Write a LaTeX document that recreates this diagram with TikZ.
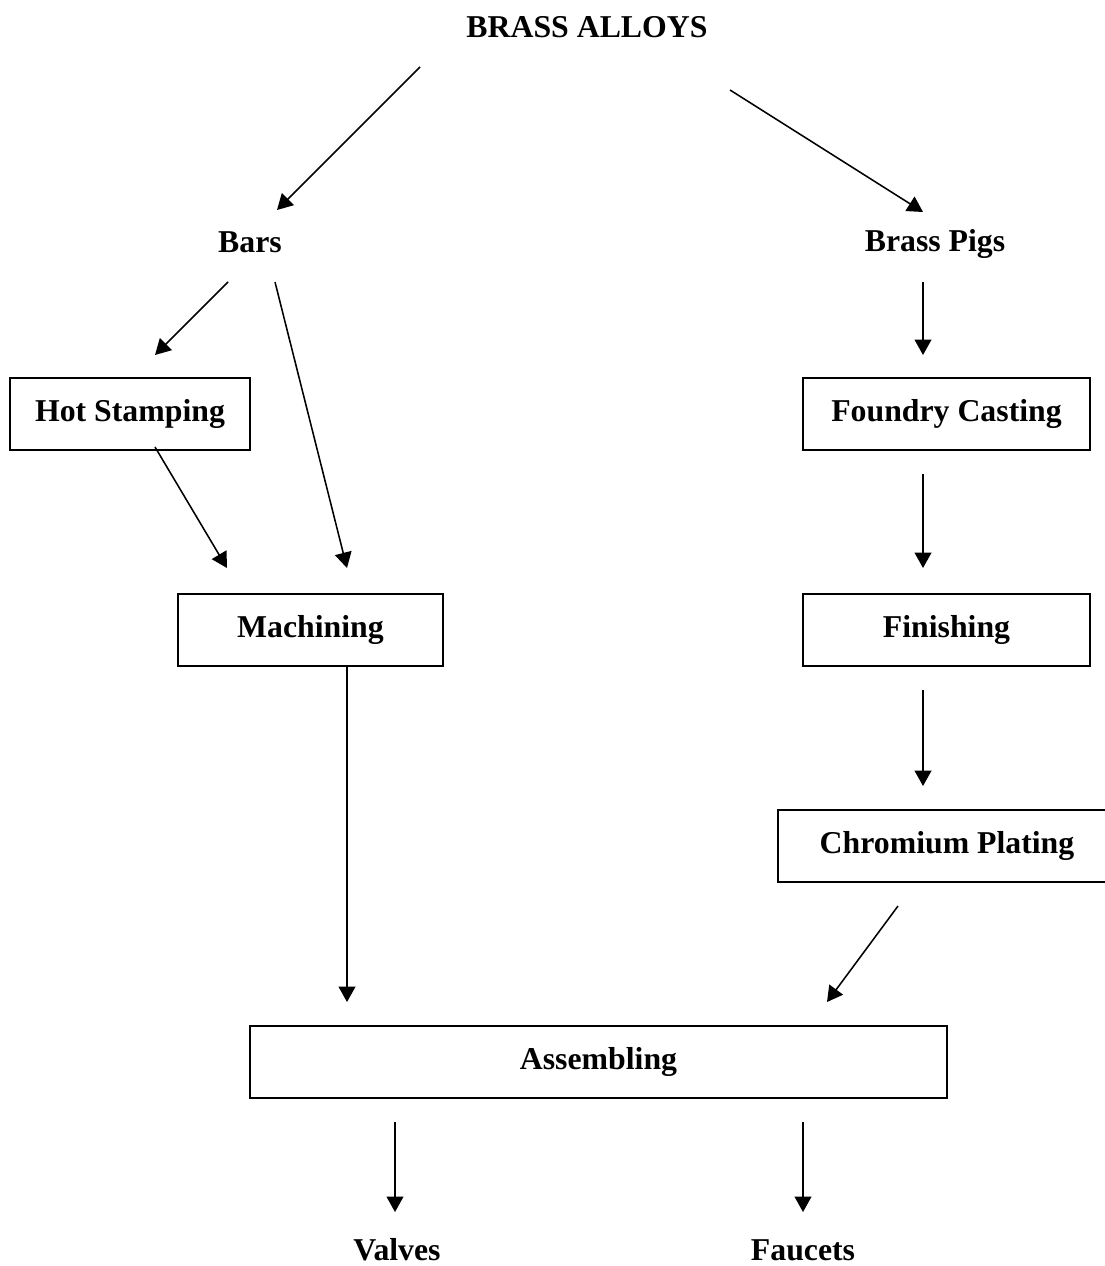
\documentclass[tikz,border=0pt]{standalone}
\usepackage{fontspec}
\setmainfont{Liberation Serif}
\usetikzlibrary{arrows.meta,calc}
\tikzset{
  stage/.style={draw, line width=1.6pt, minimum height=72*0.025cm, inner sep=0pt},
  label/.style={inner sep=0pt},
  flow/.style={line width=1.1pt, -{Triangle[length=11pt, width=12pt]}},
}

\begin{document}
\begin{tikzpicture}[x=0.025cm, y=-0.025cm, font=\fontsize{22.6}{27}\selectfont\bfseries]
\useasboundingbox (0,0) rectangle (1104,1266);

% plain labels
\node[label] (alloys) at (587,27) {BRASS ALLOYS};
\node[label] (bars) at (250,242) {Bars};
\node[label] (pigs) at (935,244) {Brass Pigs};
\node[label] (valves) at (397,1250) {Valves};
\node[label] (faucets) at (803,1250) {Faucets};

% boxed stages
\node[stage, minimum width=240*0.025cm] (hot) at (130,414) {Hot Stamping};
\node[stage, minimum width=287*0.025cm] (foundry) at (946.5,414) {Foundry Casting};
\node[stage, minimum width=265*0.025cm] (mach) at (310.5,630) {Machining};
\node[stage, minimum width=287*0.025cm] (finish) at (946.5,630) {Finishing};
\node[stage, minimum width=338*0.025cm] (chrom) at (947,846) {Chromium Plating};
\node[stage, minimum width=697*0.025cm] (assem) at (598.5,1062) {Assembling};

% left branch
\draw[flow] ($(alloys)+(-167,40)$) -- ($(bars)+(27,-32)$);
\draw[flow] ($(bars)+(-22,40)$) -- ($(hot)+(25,-59)$);
\draw[flow] ($(bars)+(25,40)$) -- ($(mach)+(36.5,-62)$);
\draw[flow] ($(hot)+(25,33)$) -- ($(mach)+(-83.5,-62)$);
\draw[flow] ($(mach.south)+(36.5,0)$) -- ($(assem)+(-251.5,-60)$);

% right branch
\draw[flow] ($(alloys)+(143,63)$) -- ($(pigs)+(-12,-32)$);
\draw[flow] ($(pigs)+(-12,38)$) -- ($(foundry)+(-23.5,-59)$);
\draw[flow] ($(foundry)+(-23.5,60)$) -- ($(finish)+(-23.5,-62)$);
\draw[flow] ($(finish)+(-23.5,60)$) -- ($(chrom)+(-24,-60)$);
\draw[flow] ($(chrom)+(-49,60)$) -- ($(assem)+(228.5,-60)$);

% products
\draw[flow] ($(assem)+(-203.5,60)$) -- ($(valves)+(-2,-38)$);
\draw[flow] ($(assem)+(204.5,60)$) -- ($(faucets)+(0,-38)$);
\end{tikzpicture}
\end{document}
